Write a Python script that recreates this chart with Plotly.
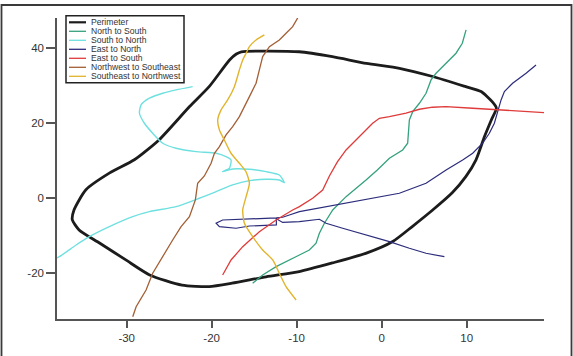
import plotly.graph_objects as go

# ---------------- data ----------------
series_names = ["Perimeter", "North to South", "South to North", "East to North",
                "East to South", "Northwest to Southeast", "Southeast to Northwest"]

perimeter_x = [-16.5, -9.7, -5.8, -1.8, 2.1, 6.0, 9.9, 11.7, 13.0, 13.5, 12.9, 12.1, 11.1, 9.9,
               8.3, 6.0, 3.6, 1.3, -1.8, -5.8, -9.7, -13.6, -17.6, -20.3, -23.5, -27.3, -30.1,
               -33.2, -35.6, -36.4, -36.2, -34.8, -32.0, -29.1, -26.2, -22.6, -20.3, -17.9, -17.1, -16.5]
perimeter_y = [38.9, 38.9, 37.6, 35.8, 34.5, 32.3, 29.6, 28.3, 25.6, 23.9, 20.7, 16.3, 10.1, 5.6,
               1.3, -3.3, -7.7, -11.7, -14.8, -17.4, -19.7, -21.1, -22.8, -23.7, -23.3, -20.6, -16.6,
               -12.1, -8.6, -5.9, -3.3, 2.1, 6.6, 10.1, 15.4, 24.3, 29.6, 36.7, 38.3, 38.9]

n2s_x = [9.93, 9.49, 8.75, 7.58, 6.4, 5.81, 5.22, 4.44, 3.65, 3.26, 3.18, 3.06, 2.47, 0.91, -0.51,
         -1.84, -4.19, -5.76, -6.74, -7.33, -7.72, -8.51, -9.68, -10.86, -12.42, -14.0, -15.18]
n2s_y = [44.72, 41.17, 38.51, 35.84, 33.17, 31.39, 27.84, 25.17, 22.93, 20.72, 17.17, 14.51, 12.72,
         10.51, 7.39, 4.72, 0.27, -3.28, -6.83, -9.49, -12.16, -13.95, -15.28, -16.61, -18.4, -20.61, -22.83]

s2n_x = [-38.3, -37.92, -35.95, -34.39, -32.04, -29.29, -27.33, -24.19, -21.45, -19.48, -17.53, -15.56,
         -13.6, -12.04, -11.45, -12.04, -13.6, -15.56, -17.53, -18.71, -17.92, -17.72, -18.31, -19.48,
         -21.84, -24.19, -25.76, -26.94, -27.92, -28.5, -28.31, -27.33, -25.76, -24.19, -22.24]
s2n_y = [-16.08, -15.73, -12.61, -10.4, -7.73, -5.07, -3.73, -2.4, -0.16, 1.6, 3.39, 4.53,
         4.91, 4.72, 4.0, 6.05, 6.93, 7.57, 7.65, 6.93, 7.84, 10.05, 10.93, 11.84,
         12.27, 13.17, 14.51, 17.17, 19.84, 22.51, 24.72, 26.51, 27.84, 28.72, 29.6]

e2n_x = [18.16, 16.99, 15.41, 14.44, 14.05, 13.65, 13.26, 12.67, 11.88, 10.71, 9.53, 7.58, 5.22, 2.08,
         -1.06, -4.59, -7.33, -9.68, -10.86, -11.65, -12.39, -15.56, -18.71, -19.48, -19.09, -17.13,
         -15.56, -12.39, -12.39, -11.65, -9.68, -7.33, -6.54, -4.59, -1.84, 0.91, 3.26, 5.22, 7.38]
e2n_y = [35.39, 33.17, 30.51, 28.27, 26.05, 22.93, 19.84, 17.17, 14.51, 11.84, 10.05, 7.39, 3.84, 1.17,
         -0.16, -1.49, -2.83, -3.73, -4.61, -5.23, -5.41, -5.76, -5.95, -6.83, -7.73, -8.16,
         -7.55, -7.28, -5.6, -6.61, -6.4, -5.76, -6.83, -8.16, -9.95, -11.73, -13.49, -14.83, -15.73]

e2s_x = [19.14, 16.99, 13.85, 10.71, 7.58, 6.0, 4.44, 2.87, 0.91, -0.27, -1.06, -1.84, -3.01, -4.19,
         -5.21, -6.15, -6.94, -8.12, -9.68, -10.47, -12.42, -14.39, -16.35, -17.72, -18.71]
e2s_y = [22.67, 22.93, 23.39, 23.84, 24.27, 24.11, 23.57, 22.51, 21.6, 21.17, 19.84, 18.05, 15.39, 12.72,
         9.52, 5.79, 2.05, -0.16, -2.4, -3.28, -5.95, -9.07, -13.07, -16.61, -20.61]

nw2se_x = [-9.88, -10.47, -11.25, -12.04, -13.21, -14.0, -14.39, -14.78, -15.56, -16.15, -16.74, -17.53,
           -18.31, -19.09, -19.68, -20.07, -20.86, -21.65, -21.92, -22.62, -23.6, -24.59, -25.76, -26.94,
           -27.72, -28.89, -29.29]
nw2se_y = [47.92, 45.6, 43.84, 42.05, 40.27, 37.6, 34.05, 30.51, 26.93, 24.27, 21.6, 18.93,
           16.72, 13.6, 11.84, 9.17, 5.79, 3.84, -0.61, -5.07, -7.73, -11.28, -15.73, -20.16,
           -24.61, -29.07, -31.73]

se2nw_x = [-13.8, -14.78, -15.56, -15.95, -16.35, -16.74, -17.33, -18.12, -18.89, -19.29, -19.09, -18.51,
           -17.72, -16.74, -15.95, -15.56, -15.95, -16.35, -16.15, -15.18, -14.0, -12.82, -12.04, -11.25, -10.07]
se2nw_y = [43.39, 42.05, 40.27, 38.51, 36.72, 34.05, 29.6, 26.05, 23.39, 20.72, 18.05, 15.39,
           11.84, 9.17, 6.85, 3.84, 0.27, -3.28, -6.83, -10.4, -13.95, -16.61, -20.16, -23.73, -27.28]

x_tick_vals = [-30, -20, -10, 0, 10]
x_tick_labels = ["-30", "-20", "-10", "0", "10"]
y_tick_vals = [-20, 0, 20, 40]
y_tick_labels = ["-20", "0", "20", "40"]

# ---------------- styling ----------------
xs = [perimeter_x, n2s_x, s2n_x, e2n_x, e2s_x, nw2se_x, se2nw_x]
ys = [perimeter_y, n2s_y, s2n_y, e2n_y, e2s_y, nw2se_y, se2nw_y]
colors = ["#1c1c1c", "#35a17e", "#6fe0e0", "#2c2c7c", "#e03a3a", "#a35e34", "#e2b42c"]
widths = [2.8, 1.3, 1.4, 1.2, 1.3, 1.3, 1.4]
shapes_kind = ["spline", "linear", "spline", "linear", "linear", "linear", "spline"]

W, H = 573, 356
L, R, T, B = 57, 29, 18, 37
pw, ph = W - L - R, H - T - B


def px(x):
    return (x - L) / pw


def py(y):
    return (H - B - y) / ph


fig = go.Figure()
for name, x, y, c, w, k in zip(series_names, xs, ys, colors, widths, shapes_kind):
    line = dict(color=c, width=w, shape=k)
    if k == "spline":
        line["smoothing"] = 0.6
    fig.add_trace(go.Scatter(x=x, y=y, mode="lines", name=name, line=line, showlegend=False))

shapes = []
annotations = []
# outer frame
shapes.append(dict(type="rect", xref="paper", yref="paper",
                   x0=px(1.5), x1=px(571.5), y0=py(420), y1=py(5),
                   line=dict(color="#3a3a3a", width=1.8), fillcolor="rgba(0,0,0,0)", layer="above"))
# legend box
shapes.append(dict(type="rect", xref="paper", yref="paper",
                   x0=px(66), x1=px(184), y0=py(82.7), y1=py(15.7),
                   line=dict(color="#222", width=1.5), fillcolor="white", layer="above"))
for i, (name, c, w) in enumerate(zip(series_names, colors, widths)):
    yy = 22.3 + 9 * i
    shapes.append(dict(type="line", xref="paper", yref="paper",
                       x0=px(69), x1=px(86), y0=py(yy), y1=py(yy),
                       line=dict(color=c, width=2.2 if i == 0 else 1.3), layer="above"))
    annotations.append(dict(xref="paper", yref="paper", x=px(88.5), y=py(yy),
                            xanchor="left", yanchor="middle", text=name, showarrow=False,
                            font=dict(family="Liberation Sans, Arial", size=8.6, color="#333")))

axis_common = dict(showgrid=False, zeroline=False, showline=True, linecolor="#555", linewidth=1.5,
                   ticks="outside", tickcolor="#555", tickwidth=1.5,
                   tickfont=dict(family="Liberation Sans, Arial", size=11.5, color="#333"))

fig.update_layout(
    width=W, height=H,
    margin=dict(l=L, r=R, t=T, b=B),
    paper_bgcolor="white", plot_bgcolor="white",
    xaxis=dict(range=[-38.2, 19.1], tickvals=x_tick_vals, ticktext=x_tick_labels, ticklen=7, **axis_common),
    yaxis=dict(range=[-32.35, 47.9], tickvals=y_tick_vals, ticktext=y_tick_labels, ticklen=9, **axis_common),
    shapes=shapes, annotations=annotations, showlegend=False,
)

fig.write_html("out.html")
